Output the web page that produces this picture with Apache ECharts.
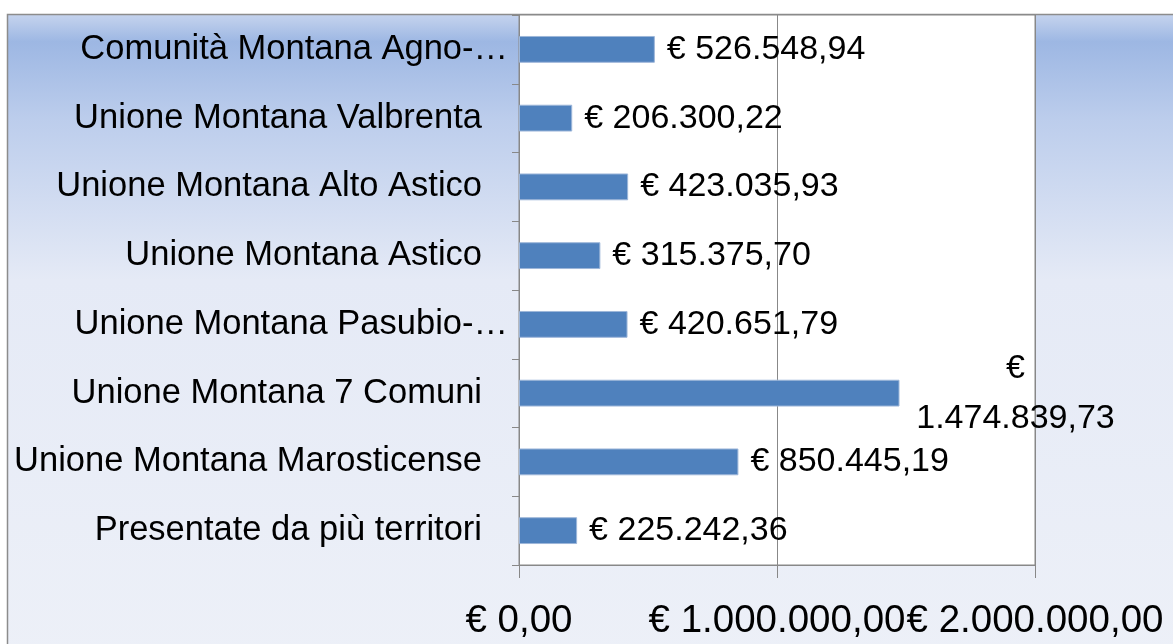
<!DOCTYPE html>
<html>
<head>
<meta charset="utf-8">
<script src="https://cdn.jsdelivr.net/npm/echarts@6/dist/echarts.min.js"></script>
<style>
  html, body { margin: 0; padding: 0; background: #fff; }
  #chart { width: 1173px; height: 644px; }
</style>
</head>
<body>
<div id="chart"></div>
<script>
// territori, dall'alto verso il basso
const categories = [
  'Comunità Montana Agno-…',
  'Unione Montana Valbrenta',
  'Unione Montana Alto Astico',
  'Unione Montana Astico',
  'Unione Montana Pasubio-…',
  'Unione Montana 7 Comuni',
  'Unione Montana Marosticense',
  'Presentate da più territori'
];
const values = [526548.94, 206300.22, 423035.93, 315375.70, 420651.79, 1474839.73, 850445.19, 225242.36];
const axisTicks = [0, 1000000, 2000000];

const font = 'Liberation Sans, Arial, sans-serif';

function euro(v) {
  const parts = v.toFixed(2).split('.');
  return '€ ' + parts[0].replace(/\B(?=(\d{3})+(?!\d))/g, '.') + ',' + parts[1];
}

const chart = echarts.init(document.getElementById('chart'));

const option = {
  animation: false,
  graphic: [
    {
      type: 'rect',
      z: -100,
      shape: { x: 7.5, y: 14.5, width: 1300, height: 700 },
      style: {
        stroke: '#8c8c8c',
        lineWidth: 1.5,
        fill: new echarts.graphic.LinearGradient(0, 0, 0, 1, [
          { offset: 0, color: '#c6d4ee' },
          { offset: 0.04, color: '#9db7e3' },
          { offset: 0.15, color: '#bccdec' },
          { offset: 0.38, color: '#e5eaf6' },
          { offset: 1, color: '#eef1f8' }
        ])
      }
    }
  ],
  grid: {
    left: 519,
    right: 138,
    top: 15,
    bottom: 79,
    show: true,
    backgroundColor: '#ffffff',
    borderColor: '#888888',
    borderWidth: 1,
    containLabel: false,
    outerBoundsMode: 'none'
  },
  xAxis: {
    type: 'value',
    min: axisTicks[0],
    max: axisTicks[axisTicks.length - 1],
    interval: axisTicks[1] - axisTicks[0],
    axisLine: { show: true, lineStyle: { color: '#888888' } },
    axisTick: { show: true, length: 13, lineStyle: { color: '#888888' } },
    splitLine: { show: true, lineStyle: { color: '#888888', width: 1 } },
    axisLabel: {
      margin: 37,
      fontFamily: font,
      fontSize: 38.5,
      color: '#000',
      hideOverlap: false,
      formatter: euro
    }
  },
  yAxis: {
    type: 'category',
    inverse: true,
    data: categories,
    axisLine: { show: true, lineStyle: { color: '#888888' } },
    axisTick: { show: true, length: 7, lineStyle: { color: '#888888' } },
    splitLine: { show: false },
    axisLabel: {
      margin: 11,
      fontFamily: font,
      fontSize: 34.5,
      color: '#000',
      // le etichette troncate sporgono un po' più a destra
      formatter: function (v) {
        return v.endsWith('…') ? v : '{p|' + v + '}';
      },
      rich: {
        p: { fontFamily: font, fontSize: 34.5, color: '#000', padding: [0, 26, 0, 0] }
      }
    }
  },
  series: [
    {
      type: 'bar',
      barWidth: '39%',
      itemStyle: { color: '#4f81bd', borderColor: '#9db6d9', borderWidth: 1 },
      label: {
        show: true,
        position: 'right',
        distance: 12,
        fontFamily: font,
        fontSize: 34,
        color: '#000',
        formatter: function (p) { return euro(p.value); }
      },
      data: values.map(function (v) {
        if (v < 1000000) return v;
        // etichetta lunga: va a capo come nell'originale
        return {
          value: v,
          label: {
            align: 'center',
            offset: [104, 0],
            lineHeight: 50,
            formatter: function (p) {
              const t = euro(p.value);
              return '€\n' + t.slice(2);
            }
          }
        };
      })
    }
  ]
};

chart.setOption(option);
</script>
</body>
</html>
